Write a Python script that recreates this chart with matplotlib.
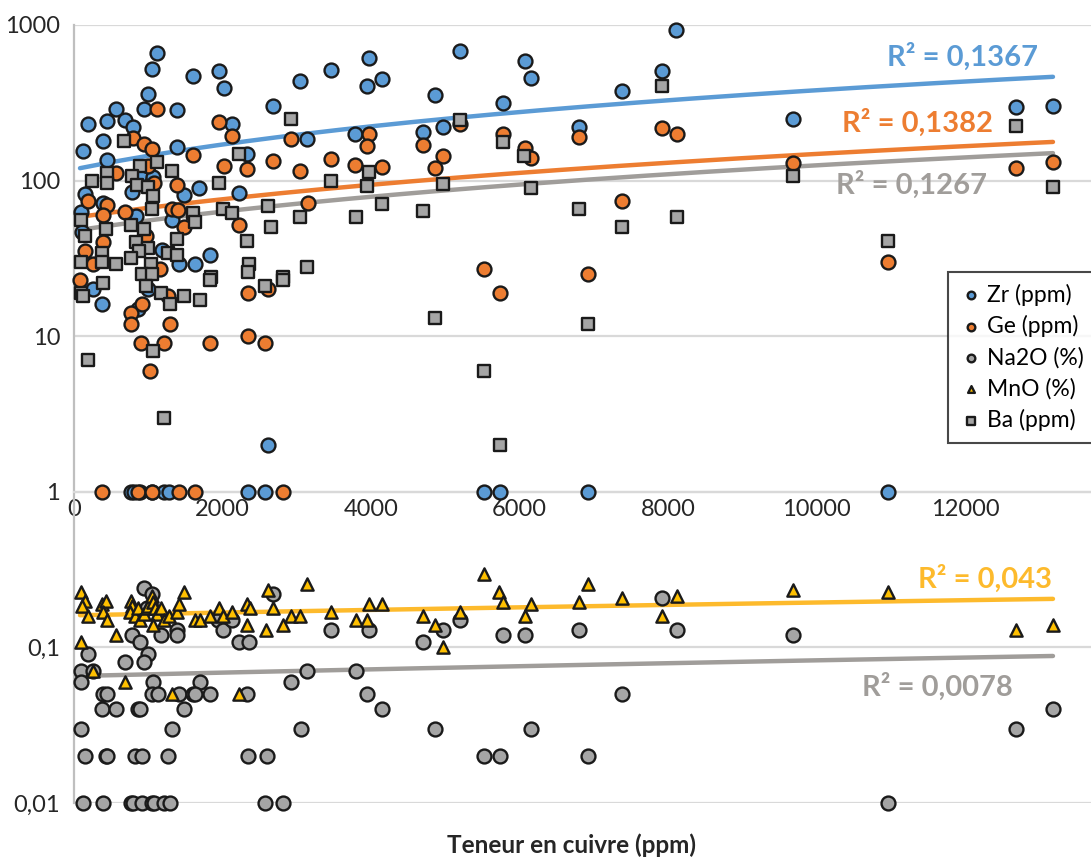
import numpy as np
import matplotlib.pyplot as plt

plt.rcParams['font.family'] = ['Lato', 'DejaVu Sans']

# Zr (ppm)
zr_cu = [1117, 1050, 1602, 1951, 2019, 3459, 3042, 2678, 996, 565, 942, 188, 444, 686, 794,
         1386, 2127, 3136, 3782, 390, 121, 1386, 2328, 444, 888, 1063, 148, 390, 781, 1683,
         2221, 94, 835, 1319, 1480, 108, 1184, 1830, 1629, 1413, 256, 377, 861, 996, 2611,
         767, 808, 888, 1050, 1211, 1279, 2342, 2571, 5519, 5734, 6918, 10956,
         8103, 3971, 3944, 4146, 5196, 6070, 6151, 4859, 5774, 7376, 7914, 4698, 4967, 6797,
         9678, 12680, 13178]
zr_val = [660, 520, 470, 505, 395, 515, 435, 300, 360, 290, 290, 230, 240, 245, 220,
          285, 230, 185, 200, 180, 155, 165, 148, 136, 109, 105, 82, 72, 85, 89,
          83, 63, 59, 56, 81, 47, 36, 33, 29, 29, 20, 16, 15, 20, 2,
          1, 1, 1, 1, 1, 1, 1, 1, 1, 1, 1, 1,
          930, 615, 405, 450, 680, 585, 455, 355, 315, 375, 505, 205, 220, 220,
          250, 295, 300]

# Ge (ppm)
ge_cu = [1117, 1951, 2127, 2920, 794, 942, 1050, 1602, 2678, 3459, 3782, 2019, 2328, 3042,
         565, 996, 1077, 1386, 188, 444, 3150, 686, 390, 1319, 1400, 2221, 1480, 969, 390,
         148, 256, 1157, 81, 1265, 767, 915, 767, 1292, 2342, 2611, 902, 1211, 1830, 2342,
         2571, 1023,
         377, 861, 1050, 1413, 1629, 2813,
         3971, 3944, 4146, 4698, 4967, 4859, 5196, 5774, 6070, 6151, 6797, 7914, 8117, 7376,
         5519, 6918, 5734, 9678, 12680, 13178, 10956]
ge_val = [288, 238, 194, 185, 188, 172, 160, 146, 134, 137, 126, 124, 119, 115,
          112, 124, 96, 94, 74, 70, 72, 63, 60, 66, 65, 52, 50, 44, 40,
          35, 29, 27, 23, 18, 14, 16, 12, 12, 19, 20, 9, 9, 9, 10,
          9, 6,
          1, 1, 1, 1, 1, 1,
          200, 167, 122, 170, 144, 120, 231, 200, 162, 140, 190, 218, 200, 74,
          27, 25, 19, 130, 120, 132, 30]

# Na2O (%)
na2o_cu = [942, 1050, 2678, 982, 1938, 2005, 2127, 3459, 1386, 1386, 1171, 781, 888, 2221,
           2356, 188, 996, 686, 942, 94, 256, 3136, 94, 1063, 1696, 2920, 390, 444, 1050,
           1130, 1413, 1602, 1629, 1830, 2328, 377, 565, 861, 888, 1480, 94, 1319, 3055,
           148, 430, 444, 821, 915, 1265, 2342, 2598,
           121, 390, 767, 794, 915, 1050, 1077, 1211, 1292, 2571, 2813,
           3971, 4967, 5196, 4698, 5774, 6070, 6797, 7914, 8117, 3796, 3944, 4146, 4859,
           6151, 7376, 5519, 5734, 6918, 9678, 12680, 13178, 10956]
na2o_val = [0.24, 0.22, 0.22, 0.18, 0.15, 0.13, 0.15, 0.13, 0.13, 0.12, 0.12, 0.12, 0.108, 0.108,
            0.108, 0.09, 0.09, 0.08, 0.08, 0.07, 0.07, 0.07, 0.06, 0.06, 0.06, 0.06, 0.05, 0.05, 0.05,
            0.05, 0.05, 0.05, 0.05, 0.05, 0.05, 0.04, 0.04, 0.04, 0.04, 0.04, 0.03, 0.03, 0.03,
            0.02, 0.02, 0.02, 0.02, 0.02, 0.02, 0.02, 0.02,
            0.01, 0.01, 0.01, 0.01, 0.01, 0.01, 0.01, 0.01, 0.01, 0.01, 0.01,
            0.13, 0.13, 0.15, 0.108, 0.12, 0.12, 0.13, 0.207, 0.13, 0.07, 0.05, 0.04, 0.03,
            0.03, 0.05, 0.02, 0.02, 0.02, 0.12, 0.03, 0.04, 0.01]

# MnO (%)
mno_cu = [94, 148, 108, 188, 94, 377, 430, 390, 444, 565, 686, 256,
          767, 781, 754, 821, 861, 888, 942, 982, 996, 1050, 1063, 1090, 1117, 1063, 1171,
          1211, 1279, 1386, 1413, 1480, 1319, 1629, 1696, 1830, 1951, 2005, 2127, 2328, 2328,
          2369, 2584, 2611, 2678, 2813, 2920, 3042, 3136, 3459, 2221,
          3796, 3944, 3971, 4146, 4698, 4859, 4967, 5196, 5519, 5720, 5774, 6070, 6151, 6797,
          6918, 7376, 7914, 8117, 9678, 10956, 12680, 13178]
mno_val = [0.227, 0.2, 0.185, 0.16, 0.108, 0.19, 0.2, 0.17, 0.15, 0.12, 0.06, 0.07,
           0.2, 0.185, 0.17, 0.16, 0.18, 0.15, 0.165, 0.18, 0.185, 0.215, 0.195, 0.18, 0.165, 0.14, 0.18,
           0.15, 0.16, 0.17, 0.19, 0.227, 0.05, 0.15, 0.15, 0.16, 0.18, 0.16, 0.17, 0.19, 0.14,
           0.18, 0.13, 0.235, 0.18, 0.14, 0.16, 0.16, 0.255, 0.17, 0.05,
           0.15, 0.15, 0.19, 0.19, 0.16, 0.14, 0.1, 0.17, 0.296, 0.227, 0.195, 0.16, 0.19, 0.195,
           0.255, 0.207, 0.16, 0.215, 0.235, 0.227, 0.13, 0.14]

# Ba (ppm)
ba_cu = [2920, 673, 2221, 1117, 888, 1319, 444, 781, 242, 1951, 3459, 444, 848, 996, 1063,
         2611, 1050, 1602, 2005, 2127, 3042, 1629, 94, 767, 430, 942, 2651, 148, 1386, 2328,
         835, 996, 377, 875, 1265, 767, 1386, 94, 565, 2356, 1036, 3136, 915, 1050, 1844,
         2813, 377, 94, 121, 390, 969, 1171, 1292, 1480, 1696, 1830, 2571, 2813, 188, 1063,
         1211, 2342,
         3796, 5196, 5774, 6057, 3971, 3944, 4967, 4146, 4698, 6151, 6797, 7376, 7914, 8117,
         9678, 12680, 13178, 10956, 4859, 6918, 5519, 5734]
ba_val = [249, 180, 148, 132, 124, 115, 112, 107, 100, 96, 100, 96, 94, 91, 80,
          69, 66, 62, 66, 62, 58, 54, 56, 52, 49, 49, 50, 44, 42, 41,
          40, 37, 34, 35, 34, 32, 33, 30, 29, 29, 29, 28, 25, 25, 24,
          24, 30, 19, 18, 22, 21, 19, 16, 18, 17, 23, 21, 23, 7, 8,
          3, 26,
          58, 245, 177, 144, 113, 92, 95, 71, 64, 89, 66, 50, 405, 58,
          107, 224, 91, 41, 13, 12, 6, 2]

# linear trendlines (intercept, slope) and their R²
trend_a = {'Zr': 117.9, 'Ge': 57.7, 'Ba': 47.6, 'MnO': 0.1607, 'Na2O': 0.0654}
trend_b = {'Zr': 0.02626, 'Ge': 0.009055, 'Ba': 0.00777, 'MnO': 3.36e-6, 'Na2O': 1.718e-6}
r2_text = {'Zr': 'R² = 0,1367', 'Ge': 'R² = 0,1382', 'Ba': 'R² = 0,1267',
           'MnO': 'R² = 0,043', 'Na2O': 'R² = 0,0078'}

blue = '#5B9BD5'
orange = '#ED7D31'
grey = '#A5A5A5'
gold = '#FFC000'

fig = plt.figure(figsize=(10.91, 8.59), dpi=100)
ax = fig.add_axes([0.0678, 0.0652, 0.9322, 0.9058])
ax.set_yscale('log')
ax.set_xlim(0, 13690)
ax.set_ylim(0.01, 1000)

# trendlines under the markers
xs = np.linspace(81, 13178, 200)
line_cols = {'Zr': blue, 'Ge': orange, 'Ba': '#A09D9A', 'MnO': '#FDBA2C', 'Na2O': '#A09D9A'}
for k in ['Zr', 'Ge', 'Ba', 'MnO', 'Na2O']:
    ax.plot(xs, trend_a[k] + trend_b[k] * xs, color=line_cols[k], lw=3.2,
            solid_capstyle='round', zorder=2)

ek = dict(edgecolors='#1a1a1a', linewidths=1.7, zorder=3, clip_on=False)
h1 = ax.scatter(zr_cu, zr_val, s=100, marker='o', c=blue, label='Zr (ppm)', **ek)
h2 = ax.scatter(ge_cu, ge_val, s=100, marker='o', c=orange, label='Ge (ppm)', **ek)
h3 = ax.scatter(na2o_cu, na2o_val, s=100, marker='o', c=grey, label='Na2O (%)', **ek)
h4 = ax.scatter(mno_cu, mno_val, s=78, marker='^', c=gold, label='MnO (%)', **ek)
h5 = ax.scatter(ba_cu, ba_val, s=85, marker='s', c=grey, label='Ba (ppm)', **ek)

# R² labels
fs_r2 = 21
ax.text(12975, 623, r2_text['Zr'], color=blue, fontsize=fs_r2, fontweight='bold', ha='right', va='center')
ax.text(12370, 234, r2_text['Ge'], color=orange, fontsize=fs_r2, fontweight='bold', ha='right', va='center')
ax.text(12290, 93.7, r2_text['Ba'], color='#A09D9A', fontsize=fs_r2, fontweight='bold', ha='right', va='center')
ax.text(13164, 0.275, r2_text['MnO'], color='#FDBA2C', fontsize=fs_r2, fontweight='bold', ha='right', va='center')
ax.text(12639, 0.0557, r2_text['Na2O'], color='#A09D9A', fontsize=fs_r2, fontweight='bold', ha='right', va='center')

# axes styling
ax.set_yticks([0.01, 0.1, 1, 10, 100, 1000])
ax.set_yticklabels(['0,01', '0,1', '1', '10', '100', '1000'])
ax.yaxis.set_minor_locator(plt.NullLocator())
ax.set_xticks([0, 2000, 4000, 6000, 8000, 10000, 12000])
ax.set_xticklabels(['0', '2000', '4000', '6000', '8000', '10000', '12000'])
ax.tick_params(axis='both', length=0, labelsize=17, colors='#262626')
ax.tick_params(axis='y', pad=10)
ax.tick_params(axis='x', pad=5)
ax.yaxis.grid(True, color='#D9D9D9', lw=1.6)
ax.set_axisbelow(True)
ax.spines['top'].set_visible(False)
ax.spines['right'].set_visible(False)
ax.spines['left'].set_color('#BFBFBF')
ax.spines['left'].set_linewidth(1.6)
ax.spines['bottom'].set_position(('data', 1))
ax.spines['bottom'].set_color('#D9D9D9')
ax.spines['bottom'].set_linewidth(1.6)

leg = ax.legend(handles=[h1, h2, h3, h4, h5], loc='upper left', bbox_to_anchor=(0.859, 0.6825),
                fontsize=16.5, markerscale=0.55, frameon=True, fancybox=False, handletextpad=0.2,
                borderpad=0.5, labelspacing=0.42, handlelength=1.0, borderaxespad=0)
leg.get_frame().set_edgecolor('#1a1a1a')
leg.get_frame().set_linewidth(1.5)
leg.set_zorder(5)

fig.text(0.524, 1 - 845 / 859, 'Teneur en cuivre (ppm)', ha='center', va='center',
         fontsize=17.5, fontweight='bold', color='#262626')

fig.savefig('out.png', dpi=100)
